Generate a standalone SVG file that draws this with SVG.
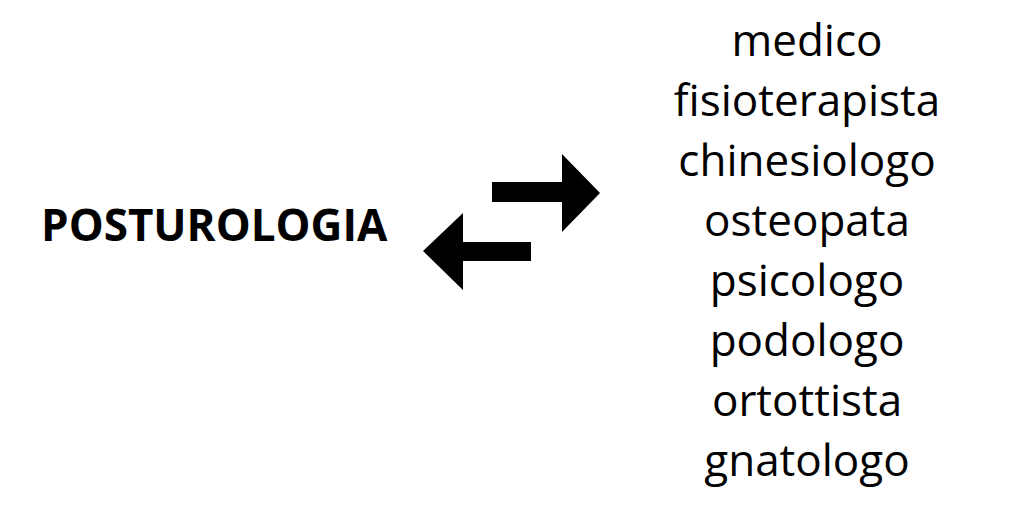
<svg xmlns="http://www.w3.org/2000/svg" width="1024" height="507" viewBox="0 0 1024 507">
<style>
.t{font-family:"Open Sans","Liberation Sans",sans-serif;fill:#000}
.r{font-size:44px;text-anchor:middle}
.b{font-size:44px;font-weight:bold}
</style>
<rect width="1024" height="507" fill="#fff"/>
<g id="posturologia"><text class="t b" x="41" y="241">POSTUROLOGIA</text></g>
<g id="connectors">
<polygon points="492,182 562,182 562,154 600,193 562,232 562,202 492,202" fill="#000"/>
<polygon points="531,242 463,242 463,213 423,251 463,290 463,261 531,261" fill="#000"/>
</g>
<g id="professioni">
<text class="t r" x="807" y="56">medico</text>
<text class="t r" x="807" y="116">fisioterapista</text>
<text class="t r" x="807" y="176">chinesiologo</text>
<text class="t r" x="807" y="236">osteopata</text>
<text class="t r" x="807" y="296">psicologo</text>
<text class="t r" x="807" y="356">podologo</text>
<text class="t r" x="807" y="416">ortottista</text>
<text class="t r" x="807" y="476">gnatologo</text>
</g>
</svg>
